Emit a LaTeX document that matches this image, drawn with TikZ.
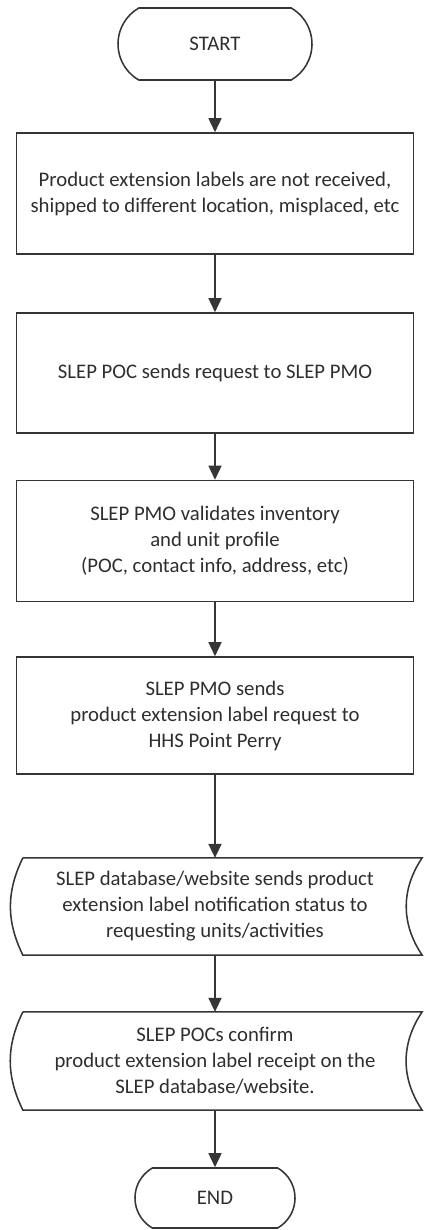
\documentclass[tikz,border=0pt]{standalone}
\usepackage{fontspec}
\setmainfont{Carlito}
\usetikzlibrary{shapes.misc, arrows.meta}
\definecolor{lineGray}{HTML}{353535}
\definecolor{textGray}{HTML}{2e2e2e}
\newcommand{\flowfont}{\fontsize{29.5}{37}\selectfont}
\tikzset{
	flowline/.style={line width=2.2pt, draw=lineGray},
	flowarrow/.style={flowline, -{Triangle[length=0.7cm, width=0.65cm]}},
	term/.style={rounded rectangle, rounded rectangle arc length=120, flowline,
		inner sep=0pt, text=textGray, font=\flowfont},
	proc/.style={rectangle, flowline, minimum width=19.85cm, inner sep=0pt,
		align=center, text=textGray, font=\flowfont},
	stored/.style={rectangle, minimum width=19.2cm, inner sep=0pt,
		align=center, text=textGray, font=\flowfont},
}
\begin{document}
\begin{tikzpicture}
		%-------------------------------------------------------------------------------
		% label extension flow
		%-------------------------------------------------------------------------------
		\useasboundingbox (0,0) rectangle (21.2,61.5);
		
		% terminators
		\node[term, minimum width=9.7cm, minimum height=3.6cm] (start) 
			at (10.75,59.3) {START};
		\node[term, minimum width=8cm, minimum height=3cm] (end) 
			at (10.75,1.6) {END};
		
		% process steps
		\node[proc, minimum height=6.05cm] (notrcvd) 
			at (10.75,51.825) {Product extension labels are not received,\\
			shipped to different location, misplaced, etc};
		\node[proc, minimum height=6cm] (pocreq) 
			at (10.75,42.85) {SLEP POC sends request to SLEP PMO};
		\node[proc, minimum height=6.05cm] (pmoval) 
			at (10.75,34.45) {SLEP PMO validates inventory\\
			and unit profile\\ (POC, contact info, address, etc)};
		\node[proc, minimum height=5.85cm] (pmoreq) 
			at (10.75,25.725) {SLEP PMO sends\\
			product extension label request to\\ HHS Point Perry};
		
		% stored data steps
		\node[stored, minimum height=4.85cm] (dbnote) 
			at (10.75,16.175) {SLEP database/website sends product\\
			extension label notification status to\\ requesting units/activities};
		\node[stored, minimum height=4.9cm] (pocconf) 
			at (10.75,8.45) {SLEP POCs confirm\\
			product extension label receipt on the\\ SLEP database/website.};
		
		% stored data outlines
		\draw[flowline] (dbnote.north west) -- ([xshift=0.75cm]dbnote.north east)
			to[bend right=34] ([xshift=0.75cm]dbnote.south east)
			-- (dbnote.south west) to[bend left=26] (dbnote.north west);
		\draw[flowline] (pocconf.north west) -- ([xshift=0.75cm]pocconf.north east)
			to[bend right=34] ([xshift=0.75cm]pocconf.south east)
			-- (pocconf.south west) to[bend left=26] (pocconf.north west);
		
		% forward
		\draw (start) edge[flowarrow] (notrcvd);
		\draw (notrcvd) edge[flowarrow] (pocreq);
		\draw (pocreq) edge[flowarrow] (pmoval);
		\draw (pmoval) edge[flowarrow] (pmoreq);
		\draw (pmoreq) edge[flowarrow] (dbnote);
		\draw (dbnote) edge[flowarrow] (pocconf);
		\draw (pocconf) edge[flowarrow] (end);
\end{tikzpicture}
\end{document}
